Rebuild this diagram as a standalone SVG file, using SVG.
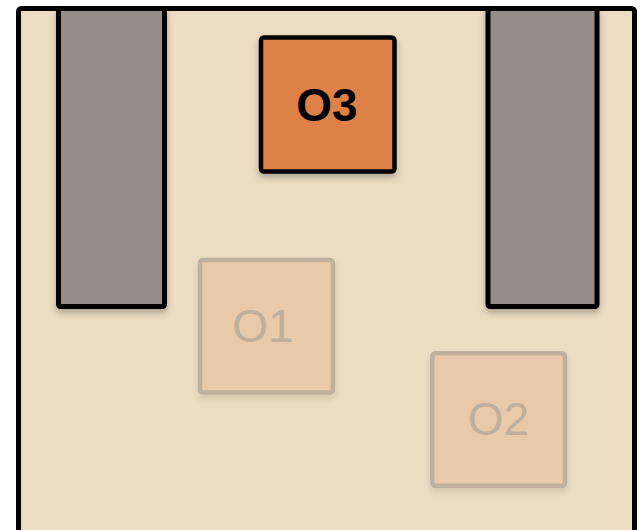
<svg xmlns="http://www.w3.org/2000/svg" width="640" height="530" viewBox="0 0 640 530">
  <style>
    .wall { fill: #968C8A; stroke: #000; stroke-width: 5; }
    .active { fill: #DE814A; stroke: #000; stroke-width: 4.5; }
    .faded { fill: #E8CAAA; stroke: #BEB09C; stroke-width: 4.5; }
    .lbl { font-family: "Liberation Sans", Arial, sans-serif; text-anchor: middle; }
    .lbl-active { font-size: 46px; font-weight: bold; fill: #000; }
    .lbl-faded { font-size: 46px; font-weight: normal; fill: #BEB09C; }
  </style>
  <defs>
    <filter id="shadow" x="-20%" y="-20%" width="140%" height="150%">
      <feDropShadow dx="0" dy="4" stdDeviation="3" flood-color="#000" flood-opacity="0.25"/>
    </filter>
    <filter id="shadowSoft" x="-20%" y="-20%" width="140%" height="150%">
      <feDropShadow dx="0" dy="4" stdDeviation="3" flood-color="#000" flood-opacity="0.1"/>
    </filter>
  </defs>
  <rect width="640" height="530" fill="#FFFFFF"/>
  <g id="room">
    <rect x="18.5" y="8.5" width="616" height="540" rx="3" fill="#EBDCC2" stroke="#000" stroke-width="5"/>
  </g>
  <g id="wall-left">
    <rect class="wall" x="58.5" y="8.5" width="106" height="298" rx="2" filter="url(#shadow)"/>
  </g>
  <g id="wall-right">
    <rect class="wall" x="488" y="8.5" width="109" height="298" rx="2" filter="url(#shadow)"/>
  </g>
  <g id="O1">
    <rect class="faded" x="200" y="260" width="133" height="132.5" rx="3" filter="url(#shadowSoft)"/>
    <text class="lbl lbl-faded" x="263" y="341.5">O1</text>
  </g>
  <g id="O2">
    <rect class="faded" x="432.3" y="353.3" width="132.7" height="132.4" rx="3" filter="url(#shadowSoft)"/>
    <text class="lbl lbl-faded" x="498.5" y="435">O2</text>
  </g>
  <g id="O3">
    <rect class="active" x="261" y="37.5" width="133.5" height="134" rx="3" filter="url(#shadow)"/>
    <text class="lbl lbl-active" x="327" y="120.5">O3</text>
  </g>
  <g id="connectors"></g>
</svg>
